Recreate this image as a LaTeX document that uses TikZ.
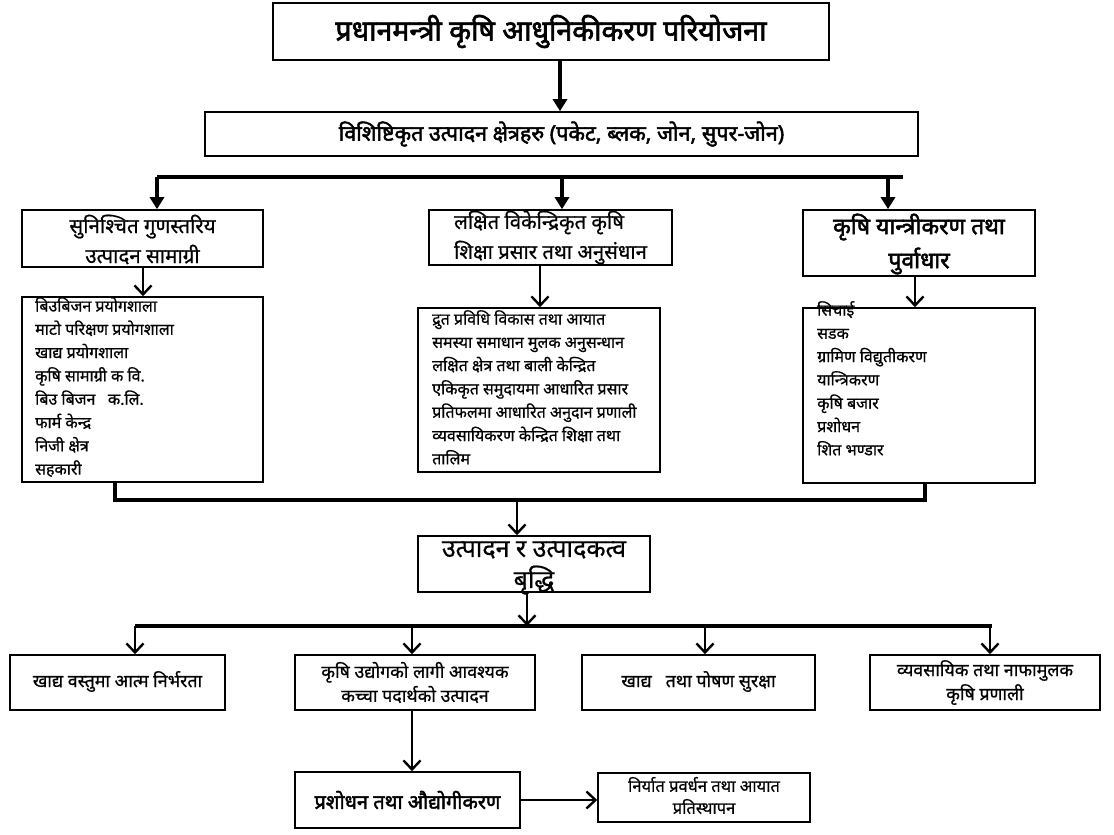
\documentclass[tikz,border=0pt]{standalone}
\usepackage{fontspec}
\setmainfont[Script=Devanagari]{Noto Sans}
\newfontfamily\devb[Script=Devanagari,FakeBold=2.2]{Noto Sans}
\newfontfamily\devm[Script=Devanagari,FakeBold=0.7]{Noto Sans}
\usetikzlibrary{arrows.meta}
\begin{document}
\begin{tikzpicture}[x=1pt,y=-1pt,
  box/.style={draw,line width=1.6pt,rectangle,inner sep=0pt},
  txt/.style={inner sep=0pt,align=center},
  lst/.style={anchor=north west,inner sep=0pt,align=left,font=\devm\fontsize{16}{23.3}\selectfont},
  bus/.style={line width=3.2pt},
  connf/.style={line width=3.2pt,-{Triangle[length=12pt,width=14pt]}},
  conn/.style={line width=2.4pt,-{Straight Barb[length=9pt,width=17pt,line width=2.4pt]}}]
\useasboundingbox (0,0) rectangle (1114,835);

% top
\node[box,minimum width=556pt,minimum height=57pt] (top) at (551,31.5) {};
\node[txt,font=\devb\fontsize{28.5}{32}\selectfont] (topt) at (top.center) {प्रधानमन्त्री कृषि आधुनिकीकरण परियोजना};
\node[box,minimum width=713pt,minimum height=44pt] (zone) at (561.5,134) {};
\node[txt,font=\devb\fontsize{21.5}{26}\selectfont] (zonet) at (zone.center) {विशिष्टिकृत उत्पादन क्षेत्रहरु (पकेट, ब्लक, जोन, सुपर-जोन)};
\coordinate (ta) at (560,0);
\draw[connf] (ta |- top.south) -- (ta |- zone.north);

% headers
\node[box,minimum width=241pt,minimum height=57pt] (hA) at (142.5,238.5) {};
\node[txt,font=\devm\fontsize{20.5}{30}\selectfont] (hAt) at ([yshift=-1pt]hA.center) {सुनिश्चित गुणस्तरिय\\उत्पादन सामाग्री};
\node[box,minimum width=243pt,minimum height=55pt] (hB) at (550.5,237.5) {};
\node[txt,align=left,font=\devm\fontsize{20.3}{30}\selectfont] (hBt) at (hB.center) {लक्षित विकेन्द्रिकृत कृषि\\शिक्षा प्रसार तथा अनुसंधान};
\node[box,minimum width=232pt,minimum height=66pt] (hC) at (919,243) {};
\node[txt,font=\devb\fontsize{23}{34}\selectfont] (hCt) at ([yshift=-1pt]hC.center) {कृषि यान्त्रीकरण तथा\\पुर्वाधार};

\coordinate (bl) at (157,177);
\coordinate (bm) at (562,177);
\coordinate (br) at (888,177);
\coordinate (be) at (903,177);
\draw[bus] (bl) -- (be);
\draw[connf] (bl) -- (bl |- hA.north);
\draw[connf] (bm) -- (bm |- hB.north);
\draw[connf] (br) -- (br |- hC.north);

% lists
\node[box,minimum width=241pt,minimum height=185pt] (lA) at (142.5,389.5) {};
\node[lst] (lAt) at (35,297) {बिउबिजन प्रयोगशाला\\माटो परिक्षण प्रयोगशाला\\खाद्य प्रयोगशाला\\कृषि सामाग्री क वि.\\बिउ बिजन\ \ \ क.लि.\\फार्म केन्द्र\\निजी क्षेत्र\\सहकारी};
\node[box,minimum width=242pt,minimum height=164pt] (lB) at (539,390) {};
\node[lst] (lBt) at (432,310) {द्रुत प्रविधि विकास तथा आयात\\समस्या समाधान मुलक अनुसन्धान\\लक्षित क्षेत्र तथा बाली केन्द्रित\\एकिकृत समुदायमा आधारित प्रसार\\प्रतिफलमा आधारित अनुदान प्रणाली\\व्यवसायिकरण केन्द्रित शिक्षा तथा\\तालिम};
\node[box,minimum width=232pt,minimum height=175pt] (lC) at (919,395.5) {};
\node[lst] (lCt) at (817,301) {सिचाई\\सडक\\ग्रामिण विद्युतीकरण\\यान्त्रिकरण\\कृषि बजार\\प्रशोधन\\शित भण्डार};

\coordinate (xA) at (143,0);
\coordinate (xB) at (540,0);
\coordinate (xC) at (915,0);
\draw[conn] (xA |- hA.south) -- (xA |- lA.north);
\draw[conn] (xB |- hB.south) -- (xB |- lB.north);
\draw[conn] (xC |- hC.south) -- (xC |- lC.north);

% collector
\node[box,minimum width=232pt,minimum height=56pt] (prod) at (534,564) {};
\node[txt,font=\devm\fontsize{25}{31}\selectfont] (prodt) at ([yshift=-4pt]prod.center) {उत्पादन र उत्पादकत्व\\बृद्धि};
\coordinate (cA) at (115,500);
\coordinate (cC) at (925,500);
\coordinate (cm) at (517,500);
\draw[bus] (cA |- lA.south) -- (cA) -- (cC) -- (cC |- lC.south);
\draw[conn] (cm) -- (cm |- prod.north);

% outcomes
\tikzset{ofont/.style={txt,font=\devm\fontsize{17.8}{24}\selectfont}}
\node[box,minimum width=215pt,minimum height=55pt] (o1) at (117.5,682.5) {};
\node[ofont] (o1t) at ([yshift=1pt]o1.center) {खाद्य वस्तुमा आत्म निर्भरता};
\node[box,minimum width=240pt,minimum height=55pt] (o2) at (415,682.5) {};
\node[ofont] (o2t) at (o2.center) {कृषि उद्योगको लागी आवश्यक\\कच्चा पदार्थको उत्पादन};
\node[box,minimum width=233pt,minimum height=55pt] (o3) at (698.5,682.5) {};
\node[ofont] (o3t) at ([yshift=1pt]o3.center) {खाद्य\ \ \ तथा पोषण सुरक्षा};
\node[box,minimum width=230pt,minimum height=55pt] (o4) at (985,682.5) {};
\node[ofont] (o4t) at (o4.center) {व्यवसायिक तथा नाफामुलक\\कृषि प्रणाली};

\coordinate (pm) at (527,626);
\coordinate (d0) at (135,626);
\coordinate (d1) at (992,626);
\draw[conn] (pm |- prod.south) -- (pm);
\draw[bus] (d0) -- (d1);
\coordinate (y2) at (412,0);
\coordinate (y3) at (705,0);
\coordinate (y4) at (990,0);
\draw[conn] (d0) -- (d0 |- o1.north);
\draw[conn] (y2 |- d0) -- (y2 |- o2.north);
\draw[conn] (y3 |- d0) -- (y3 |- o3.north);
\draw[conn] (y4 |- d0) -- (y4 |- o4.north);

\node[box,minimum width=225pt,minimum height=56pt] (p1) at (407.5,800) {};
\node[txt,font=\devb\fontsize{20}{24}\selectfont] (p1t) at (p1.center) {प्रशोधन तथा औद्योगीकरण};
\node[box,minimum width=212pt,minimum height=49pt] (p2) at (704,797.5) {};
\node[txt,font=\devm\fontsize{16.5}{22}\selectfont] (p2t) at ([yshift=2pt]p2.center) {निर्यात प्रवर्धन तथा आयात\\प्रतिस्थापन};
\draw[conn] (y2 |- o2.south) -- (y2 |- p1.north);
\draw[conn] (p1.east) -- (p1.east -| p2.west);
\end{tikzpicture}
\end{document}
